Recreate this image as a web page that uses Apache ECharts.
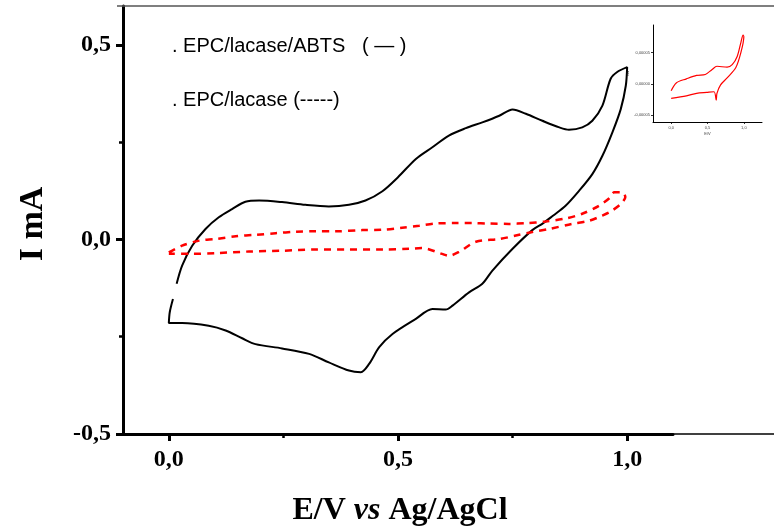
<!DOCTYPE html>
<html>
<head>
<meta charset="utf-8">
<script src="https://cdn.jsdelivr.net/npm/echarts@6/dist/echarts.min.js"></script>
<style>
html,body{margin:0;padding:0;background:#fff;}
#c{width:774px;height:528px;}
</style>
</head>
<body>
<div id="c"></div>
<script>
// ---- Data ----
// EPC/lacase/ABTS (solid black): potential E (V) and current I (mA)
const abtsE = [0.017,0.029,0.051,0.080,0.109,0.138,0.167,0.197,0.247,0.298,0.349,0.393,0.429,0.466,0.500,0.539,0.575,0.611,0.648,0.684,0.721,0.750,0.779,0.815,0.852,0.873,0.902,0.924,0.946,0.964,0.979,1.000,
  0.997,0.986,0.968,0.946,0.924,0.895,0.865,0.838,0.817,0.793,0.750,0.706,0.684,0.655,0.619,0.604,0.575,0.539,0.488,0.459,0.437,0.419,0.393,0.349,0.306,0.247,0.189,0.160,0.124,0.087,0.029,0.000,0.002,0.009];
const abtsI = [-0.114,-0.067,-0.016,0.027,0.057,0.078,0.097,0.100,0.096,0.089,0.085,0.089,0.100,0.124,0.160,0.207,0.237,0.267,0.286,0.301,0.318,0.334,0.323,0.305,0.288,0.282,0.288,0.305,0.344,0.413,0.431,0.443,
  0.395,0.335,0.276,0.215,0.168,0.125,0.086,0.061,0.042,0.024,-0.024,-0.080,-0.114,-0.136,-0.170,-0.180,-0.179,-0.204,-0.243,-0.277,-0.320,-0.341,-0.337,-0.316,-0.294,-0.280,-0.269,-0.254,-0.234,-0.222,-0.215,-0.215,-0.187,-0.153];

// EPC/lacase (dashed red)
const lacaseE = [0.000,0.029,0.066,0.102,0.146,0.190,0.233,0.277,0.320,0.364,0.422,0.466,0.509,0.546,0.582,0.626,0.662,0.699,0.742,0.779,0.822,0.866,0.902,0.939,0.961,0.972,0.989,
  0.996,0.986,0.963,0.945,0.917,0.880,0.830,0.793,0.757,0.721,0.670,0.633,0.611,0.596,0.552,0.524,0.466,0.393,0.320,0.247,0.175,0.102,0.051,0.000];
const lacaseI = [-0.033,-0.016,-0.003,0.001,0.008,0.012,0.016,0.020,0.021,0.021,0.024,0.025,0.030,0.035,0.041,0.042,0.042,0.041,0.040,0.042,0.046,0.054,0.066,0.087,0.106,0.121,0.121,
  0.109,0.091,0.071,0.061,0.048,0.040,0.027,0.019,0.010,0.001,-0.006,-0.032,-0.042,-0.037,-0.022,-0.024,-0.026,-0.026,-0.026,-0.029,-0.031,-0.035,-0.037,-0.037];

// Inset: EPC/lacase, E (V) and I (units of 1e-5 A)
const insetE = [0.00,0.07,0.21,0.35,0.47,0.56,0.63,0.77,0.84,0.91,0.96,0.99,
  1.00,0.96,0.89,0.77,0.68,0.63,0.62,0.59,0.49,0.35,0.21,0.00];
const insetI = [-1.1,0.15,0.8,1.35,1.5,2.25,2.8,2.65,3.05,4.4,6.6,7.75,
  7.5,5.0,2.6,0.95,-0.15,-1.5,-2.6,-1.25,-1.35,-1.5,-1.9,-2.3];

// Tick values
const xTickValues = [0, 0.5, 1.0];
const xMinorTicks = [0.25, 0.75];
const yTickValues = [-0.5, 0, 0.5];
const yMinorTicks = [-0.25, 0.25];
const insetXTicks = [0, 0.5, 1.0];
const insetYTicks = [-5, 0, 5];

// Texts
const legendText1 = '. EPC/lacase/ABTS   ( \u2014 )';
const legendText2 = '. EPC/lacase (-----)';

function pairs(a, b) { return a.map((v, i) => [v, b[i]]); }
const comma = v => String(v.toFixed(1)).replace('.', ',');

const chart = echarts.init(document.getElementById('c'), null, {renderer: 'canvas'});
const serif = 'Liberation Serif';
const sans = 'Liberation Sans';

const mainX = {min: -0.1, max: 1.1};
const mainY = {min: -0.5, max: 0.6};

const option = {
  backgroundColor: '#fff',
  animation: false,
  grid: [
    {left: 123, right: 101, top: 6, bottom: 94},
    {left: 653, right: 12, top: 25, bottom: 406}
  ],
  xAxis: [
    {
      type: 'value', gridIndex: 0, min: mainX.min, max: mainX.max, position: 'bottom',
      axisLine: {show: true, onZero: false, lineStyle: {color: '#000', width: 3}},
      axisTick: {show: true, inside: false, length: 7, customValues: xTickValues, lineStyle: {color: '#000', width: 3}},
      axisLabel: {show: true, customValues: xTickValues, formatter: v => comma(v), margin: 14,
        fontFamily: serif, fontWeight: 'bold', fontSize: 24, color: '#000'},
      splitLine: {show: false}
    },
    {
      type: 'value', gridIndex: 0, min: mainX.min, max: mainX.max, position: 'bottom', offset: 0,
      axisLine: {show: false, onZero: false},
      axisTick: {show: true, inside: false, length: 4, customValues: xMinorTicks, lineStyle: {color: '#000', width: 2.5}},
      axisLabel: {show: false},
      splitLine: {show: false}
    },
    {
      type: 'value', gridIndex: 1, min: -0.25, max: 1.25, position: 'bottom',
      axisLine: {show: true, onZero: false, lineStyle: {color: '#000', width: 1}},
      axisTick: {show: true, length: 2, customValues: insetXTicks, lineStyle: {color: '#000', width: 0.8}},
      axisLabel: {show: true, customValues: insetXTicks, formatter: v => comma(v), margin: 4,
        fontFamily: sans, fontSize: 4, color: '#444'},
      name: 'E/V', nameLocation: 'middle', nameGap: 10,
      nameTextStyle: {fontFamily: sans, fontSize: 4, color: '#444'},
      splitLine: {show: false}
    }
  ],
  yAxis: [
    {
      type: 'value', gridIndex: 0, min: mainY.min, max: mainY.max, position: 'left',
      axisLine: {show: true, onZero: false, lineStyle: {color: '#000', width: 3}},
      axisTick: {show: true, inside: false, length: 7, customValues: yTickValues, lineStyle: {color: '#000', width: 3}},
      axisLabel: {show: true, customValues: yTickValues, formatter: v => comma(v), margin: 12,
        fontFamily: serif, fontWeight: 'bold', fontSize: 24, color: '#000'},
      splitLine: {show: false}
    },
    {
      type: 'value', gridIndex: 0, min: mainY.min, max: mainY.max, position: 'left', offset: 0,
      axisLine: {show: false, onZero: false},
      axisTick: {show: true, inside: false, length: 4, customValues: yMinorTicks, lineStyle: {color: '#000', width: 2.5}},
      axisLabel: {show: false},
      splitLine: {show: false}
    },
    {
      type: 'value', gridIndex: 1, min: -6.05, max: 9.35, position: 'left',
      axisLine: {show: true, onZero: false, lineStyle: {color: '#000', width: 1}},
      axisTick: {show: true, length: 2, customValues: insetYTicks, lineStyle: {color: '#000', width: 0.8}},
      axisLabel: {show: true, customValues: insetYTicks, formatter: v => (v * 1e-5).toFixed(5).replace('.', ','), margin: 3,
        fontFamily: sans, fontSize: 4, color: '#444'},
      name: 'I/A', nameLocation: 'middle', nameGap: 18, nameRotate: 90,
      nameTextStyle: {fontFamily: sans, fontSize: 4, color: '#444'},
      splitLine: {show: false}
    }
  ],
  series: [
    {
      name: 'EPC/lacase/ABTS', type: 'line', xAxisIndex: 0, yAxisIndex: 0,
      data: pairs(abtsE, abtsI), showSymbol: false, smooth: 0.3,
      lineStyle: {color: '#000', width: 2}, z: 3
    },
    {
      name: 'EPC/lacase', type: 'line', xAxisIndex: 0, yAxisIndex: 0,
      data: pairs(lacaseE, lacaseI), showSymbol: false, smooth: 0.3,
      lineStyle: {color: '#ff0000', width: 2.5, type: [7, 6]}, z: 4
    },
    {
      name: 'inset', type: 'line', xAxisIndex: 2, yAxisIndex: 2,
      data: pairs(insetE, insetI), showSymbol: false, smooth: 0.3,
      lineStyle: {color: '#ff0000', width: 1.2}, z: 3
    }
  ],
  graphic: [
    {type: 'line', shape: {x1: 117, y1: 6, x2: 774, y2: 6}, style: {stroke: '#555', lineWidth: 1.5}, z: 1},
    {type: 'line', shape: {x1: 672, y1: 434, x2: 774, y2: 434}, style: {stroke: '#000', lineWidth: 1.5}, z: 1},
    {type: 'text', x: 172, y: 46, style: {text: legendText1, fontFamily: sans, fontSize: 20, fill: '#000', textAlign: 'left', textVerticalAlign: 'middle'}},
    {type: 'text', x: 172, y: 100, style: {text: legendText2, fontFamily: sans, fontSize: 20, fill: '#000', textAlign: 'left', textVerticalAlign: 'middle'}},
    {type: 'text', x: 400, y: 511, style: {
      text: '{a|E/V }{b|vs}{a| Ag/AgCl}',
      rich: {
        a: {fontFamily: serif, fontWeight: 'bold', fontSize: 32, fill: '#000', color: '#000'},
        b: {fontFamily: serif, fontWeight: 'bold', fontStyle: 'italic', fontSize: 32, fill: '#000', color: '#000'}
      },
      textAlign: 'center', textVerticalAlign: 'middle'}},
    {type: 'text', x: 33, y: 224, rotation: Math.PI / 2, style: {text: 'I mA', fontFamily: serif, fontWeight: 'bold', fontSize: 34, fill: '#000', textAlign: 'center', textVerticalAlign: 'middle'}}
  ]
};
chart.setOption(option);
</script>
</body>
</html>
